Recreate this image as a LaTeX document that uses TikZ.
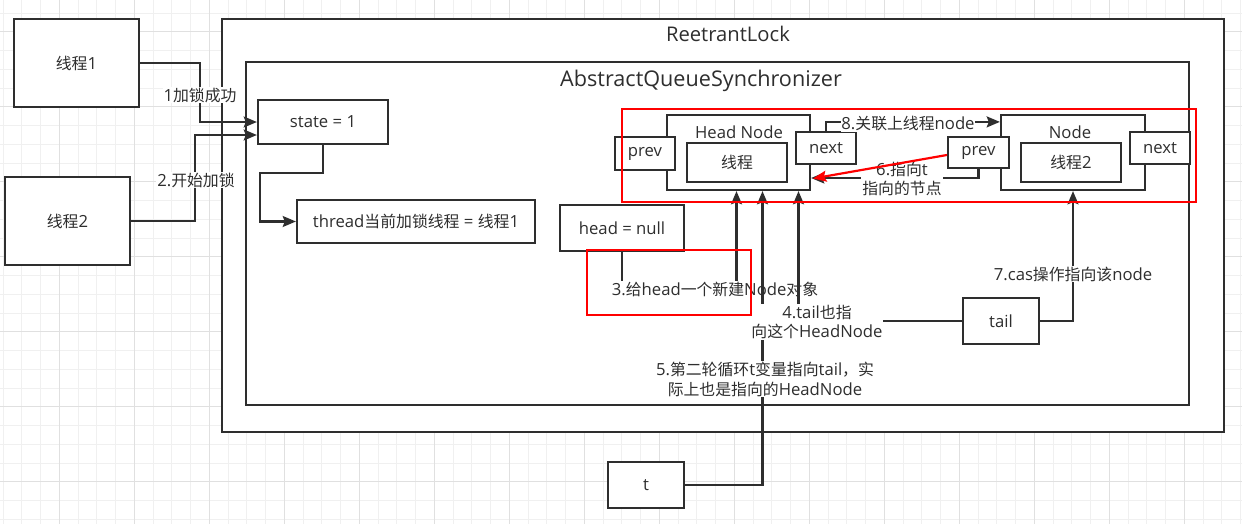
\documentclass[tikz,border=0pt]{standalone}
\usepackage{fontspec}
\setmainfont{Open Sans}
\newfontfamily\cjk{Noto Sans CJK SC}[Scale=0.95]
\usetikzlibrary{arrows.meta,calc}
\definecolor{dk}{HTML}{2E2E2E}
\definecolor{gminor}{HTML}{F0F0F0}
\definecolor{gmajor}{HTML}{E0E0E0}
\definecolor{rd}{HTML}{FF0000}
\newcommand\dgtxt{\fontsize{9.5pt}{11.3pt}\selectfont}
\begin{document}
\begin{tikzpicture}[x=0.02cm,y=-0.02cm,
  sz/.style 2 args={minimum width=#1*0.02cm, minimum height=#2*0.02cm},
  box/.style={draw=dk, fill=white, line width=1.25pt, inner sep=0pt, text=dk, font=\dgtxt},
  redbox/.style={draw=rd, line width=1.25pt, inner sep=0pt},
  lbl/.style={fill=white, inner sep=0.5pt, text=dk, font=\dgtxt, align=center},
  ttl/.style={inner sep=0pt, text=dk},
  conn/.style={draw=dk, line width=1.25pt},
  arr/.style={conn, -{Stealth[length=7.5pt,width=6.2pt,inset=1.2pt]}},
  rarr/.style={draw=rd, line width=1.25pt, -{Stealth[length=7.5pt,width=6.2pt,inset=1.2pt]}}]
\useasboundingbox (0,0) rectangle (1242,524);
% grid
\begin{scope}
\clip (0,0) rectangle (1242,524);
\foreach \i in {0,...,66} \draw[gminor, line width=0.5pt] ({3.05+18.75*\i},0) -- ++(0,524);
\foreach \i in {1,...,28} \draw[gminor, line width=0.5pt] (0,{-5.8+18.75*\i}) -- ++(1242,0);
\foreach \i in {0,...,15} \draw[gmajor, line width=0.5pt] ({59.3+75*\i},0) -- ++(0,524);
\foreach \i in {0,...,6} \draw[gmajor, line width=0.5pt] (0,{31.7+75*\i}) -- ++(1242,0);
\end{scope}
% containers
\node[box, sz={1002}{413}] (rl) at (723,225.5) {};
\node[ttl, font=\fontsize{11.5pt}{13pt}\selectfont] (rltitle) at (728,34) {ReetrantLock};
\node[box, sz={943}{343}] (aqs) at (717.5,233.5) {};
\node[ttl, font=\fontsize{12.3pt}{14pt}\selectfont] (aqstitle) at (701,81) {AbstractQueueSynchronizer};
% outer thread boxes
\node[box, sz={125}{88}] (n1) at (76.5,63) {{\cjk 线程}1};
\node[box, sz={125}{88}] (n2) at (67.5,221) {{\cjk 线程}2};
% nodes
\node[box, sz={130}{44}] (state) at (323,122) {state = 1};
\node[box, sz={238}{43}] (thread) at (416,221.5) {thread{\cjk 当前加锁线程} = {\cjk 线程}1};
\node[box, sz={124}{46}] (headnull) at (622,228) {head = null};
\node[box, sz={143}{75}] (hn) at (738.5,152.5) {};
\node[inner sep=0pt, text=dk, font=\dgtxt] (hntitle) at (739,132) {Head Node};
\node[box, sz={100}{39}] (hnt) at (737,162.5) {{\cjk 线程}};
\node[box, sz={60}{33}] (prevL) at (645,153.5) {prev};
\node[box, sz={60}{32}] (nextL) at (826,148) {next};
\node[box, sz={144}{75}] (nd) at (1073,152.5) {};
\node[inner sep=0pt, text=dk, font=\dgtxt] (ndtitle) at (1070,132) {Node};
\node[box, sz={100}{39}] (nt2) at (1071,162.5) {{\cjk 线程}2};
\node[box, sz={61}{31}] (prevR) at (978.5,152.5) {prev};
\node[box, sz={60}{32}] (nextR) at (1160,148) {next};
\node[box, sz={76}{46}] (tail) at (1001,321) {tail};
\node[box, sz={76}{46}] (t) at (646,485) {t};
% connectors
\draw[arr] (n1.east) -- ++(60,0) |- (state.west);
\node[lbl] (l1) at (200,95) {1{\cjk 加锁成功}};
\draw[arr] (n2.east) -- ++(64,0) |- ($(state.west)+(0,13)$);
\node[lbl] (l2) at (196,180) {2.{\cjk 开始加锁}};
\draw[arr] (state.south) -- ++(0,28) -| ($(thread.west)+(-36,0)$) -- (thread.west);
\draw[arr] (headnull.south) |- ($(hn.south)+(-2,99)$) -- ($(hn.south)+(-2,0)$);
\node[lbl] (l3) at (715,289) {3.{\cjk 给}head{\cjk 一个新建}Node{\cjk 对象}};
\draw[arr] (t.east) -| ($(hn.south)+(24,0)$);
\node[lbl] (l5) at (765,379) {5.{\cjk 第二轮循环}t{\cjk 变量指向}tail{\cjk ，实}\\{\cjk 际上也是指向的}HeadNode};
\draw[arr] (tail.west) -| ($(hn.south)+(60,0)$);
\node[lbl] (l4) at (817,322) {4.tail{\cjk 也指}\\{\cjk 向这个}HeadNode};
\draw[arr] (tail.east) -| (nd.south);
\node[lbl] (l7) at (1073,274) {7.cas{\cjk 操作指向该}node};
\draw[arr] (nextL.north) |- ($(nd.north west)+(0,8)$);
\node[lbl] (l8) at (908,124) {8.{\cjk 关联上线程}node};
\draw[arr] (prevR.south) |- ($(hn.east)+(0,25.5)$);
\node[lbl] (l6) at (902,179) {6.{\cjk 指向}t\\{\cjk 指向的节点}};
\draw[rarr] ($(prevR.west)+(0,2.5)$) -- ($(hn.east)+(2,26)$);
% red highlight boxes
\node[redbox, sz={574}{93}] (redbig) at (909,155.5) {};
\node[redbox, sz={164}{65}] (red3) at (669,282.5) {};
\end{tikzpicture}
\end{document}
